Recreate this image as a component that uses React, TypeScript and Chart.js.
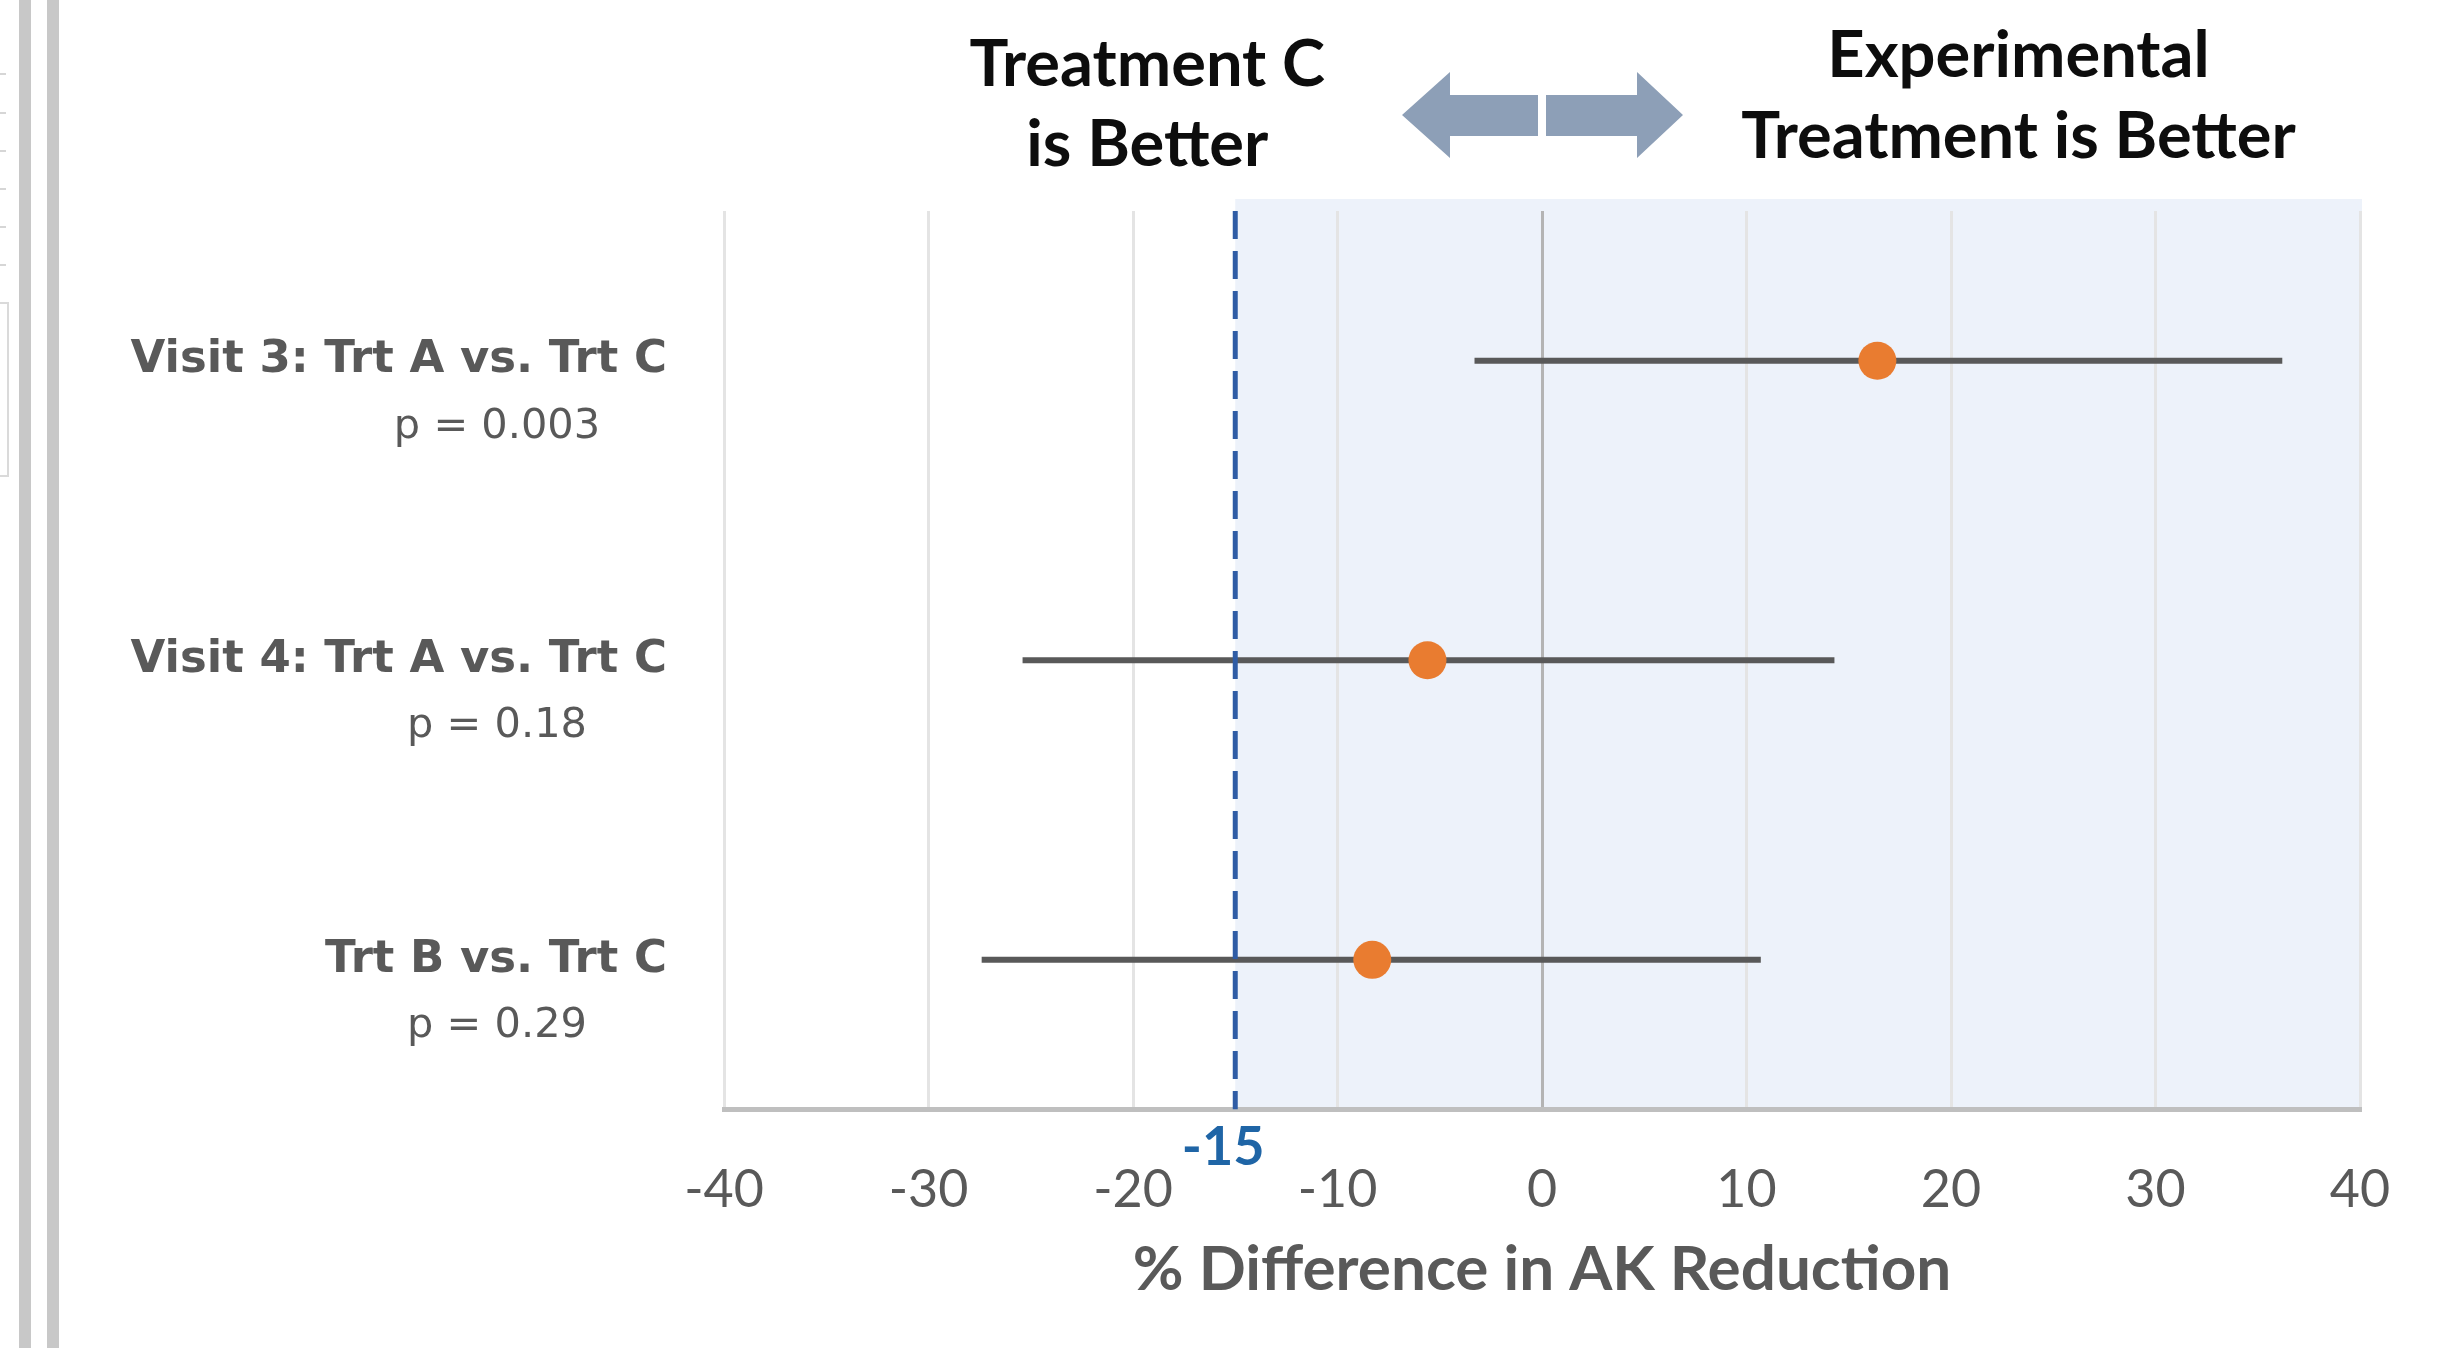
import React, { useEffect, useRef } from "react";
import { Chart, registerables } from "chart.js";

Chart.register(...registerables);

const categories = ["Visit 3: Trt A vs. Trt C", "Visit 4: Trt A vs. Trt C", "Trt B vs. Trt C"];
const pLabels = ["p = 0.003", "p = 0.18", "p = 0.29"];
const estimates = [16.4, -5.6, -8.3];
const lowerCI = [-3.3, -25.4, -27.4];
const upperCI = [36.2, 14.3, 10.7];
const marginValue = -15;
const xMin = -40;
const xMax = 40;
const xStep = 10;
const leftHeader = ["Treatment C", "is Better"];
const rightHeader = ["Experimental", "Treatment is Better"];
const axisTitle = "% Difference in AK Reduction";

const W = 2443;
const H = 1348;

const decorPlugin = {
  id: "decor",
  beforeDraw(chart: any) {
    const { ctx, chartArea, scales } = chart;
    const x = scales.x;
    ctx.save();
    ctx.fillStyle = "#ffffff";
    ctx.fillRect(0, 0, chart.width, chart.height);
    const x0 = x.getPixelForValue(marginValue);
    const x1 = x.getPixelForValue(xMax) + 2;
    ctx.fillStyle = "#EDF2FA";
    ctx.fillRect(x0, chartArea.top - 12, x1 - x0, chartArea.bottom - chartArea.top + 12);
    ctx.restore();
  },
  afterDraw(chart: any) {
    const { ctx, scales, chartArea } = chart;
    const x = scales.x;
    const y = scales.y;
    ctx.save();
    // category labels
    ctx.textBaseline = "middle";
    categories.forEach((c, i) => {
      const py = y.getPixelForValue(i + 0.5);
      ctx.fillStyle = "#595959";
      ctx.textAlign = "right";
      ctx.font = "bold 45px 'DejaVu Sans'";
      ctx.fillText(c, 667, py);
      ctx.textAlign = "center";
      ctx.font = "41.5px 'DejaVu Sans'";
      ctx.fillText(pLabels[i], 497, py + 66);
    });
    // axis title
    ctx.fillStyle = "#595959";
    ctx.font = "bold 62px Lato";
    ctx.textAlign = "center";
    ctx.fillText(axisTitle, (chartArea.left + chartArea.right) / 2, 1270);
    // margin label
    ctx.fillStyle = "#1F65A6";
    ctx.font = "bold 54px Lato";
    ctx.fillText(String(marginValue), x.getPixelForValue(marginValue) - 12, 1148);
    // headers
    ctx.fillStyle = "#0d0d0d";
    ctx.font = "bold 65px Lato";
    const lx = x.getPixelForValue(-19.3);
    ctx.fillText(leftHeader[0], lx, 65);
    ctx.fillText(leftHeader[1], lx, 145);
    const rx = x.getPixelForValue(23.3);
    ctx.fillText(rightHeader[0], rx, 56);
    ctx.fillText(rightHeader[1], rx, 137);
    // double arrow
    const cx = x.getPixelForValue(0);
    const cy = 115;
    ctx.fillStyle = "#8D9FB7";
    ctx.beginPath();
    ctx.moveTo(cx - 140, cy);
    ctx.lineTo(cx - 92, cy - 43);
    ctx.lineTo(cx - 92, cy - 20);
    ctx.lineTo(cx - 4, cy - 20);
    ctx.lineTo(cx - 4, cy + 21);
    ctx.lineTo(cx - 92, cy + 21);
    ctx.lineTo(cx - 92, cy + 43);
    ctx.closePath();
    ctx.fill();
    ctx.beginPath();
    ctx.moveTo(cx + 141, cy);
    ctx.lineTo(cx + 95, cy - 43);
    ctx.lineTo(cx + 95, cy - 20);
    ctx.lineTo(cx + 4, cy - 20);
    ctx.lineTo(cx + 4, cy + 21);
    ctx.lineTo(cx + 95, cy + 21);
    ctx.lineTo(cx + 95, cy + 43);
    ctx.closePath();
    ctx.fill();
    ctx.restore();
  },
};

export default function App() {
  const ref = useRef<HTMLCanvasElement | null>(null);
  useEffect(() => {
    if (!ref.current) return;
    const rowDatasets = categories.map((c, i) => ({
      label: c,
      data: [
        { x: lowerCI[i], y: i + 0.5 },
        { x: upperCI[i], y: i + 0.5 },
      ],
      showLine: true,
      borderColor: "#595959",
      borderWidth: 6,
      pointRadius: 0,
      order: 3,
    }));
    const chart = new Chart(ref.current, {
      type: "scatter",
      data: {
        datasets: [
          ...rowDatasets,
          {
            label: "margin",
            data: [
              { x: marginValue, y: 0 },
              { x: marginValue, y: categories.length },
            ],
            showLine: true,
            borderColor: "#2F5CA5",
            borderWidth: 5,
            borderDash: [28, 12],
            pointRadius: 0,
            order: 2,
          },
          {
            label: "estimate",
            data: estimates.map((v, i) => ({ x: v, y: i + 0.5 })),
            pointRadius: 19,
            pointBackgroundColor: "#E97C30",
            pointBorderWidth: 0,
            order: 1,
          },
        ],
      },
      options: {
        animation: false,
        responsive: false,
        devicePixelRatio: 1,
        layout: { padding: { left: 724, right: 83, top: 211, bottom: 78 } },
        plugins: { legend: { display: false }, tooltip: { enabled: false } },
        scales: {
          x: {
            type: "linear",
            min: xMin,
            max: xMax,
            ticks: {
              stepSize: xStep,
              font: { family: "Lato", size: 52 },
              color: "#595959",
              padding: 49,
            },
            grid: {
              color: (c: any) => (c.tick && c.tick.value === 0 ? "#B4B4B4" : "#E4E4E4"),
              lineWidth: 3,
              drawTicks: false,
            },
            border: { color: "#BFBFBF", width: 5 },
            title: { display: false },
          },
          y: {
            type: "linear",
            min: 0,
            max: categories.length,
            reverse: true,
            display: false,
          },
        },
      },
      plugins: [decorPlugin],
    } as any);
    return () => chart.destroy();
  }, []);
  return (
    <div style={{ position: "fixed", left: 0, top: 0, width: W, height: H, background: "#fff" }}>
      <canvas ref={ref} width={W} height={H} style={{ display: "block", position: "absolute", left: 0, top: 0 }} />
      <div style={{ position: "absolute", left: 19, top: 0, width: 12, height: H, background: "#C8C8C8" }} />
      <div style={{ position: "absolute", left: 47, top: 0, width: 12, height: H, background: "#C8C8C8" }} />
      {[73, 112, 150, 188, 226, 264].map((t) => (
        <div key={t} style={{ position: "absolute", left: 0, top: t, width: 6, height: 2, background: "#D6D6D6" }} />
      ))}
      <div style={{ position: "absolute", left: 0, top: 302, width: 7, height: 171, borderRight: "2px solid #DADADA", borderTop: "2px solid #DADADA", borderBottom: "2px solid #DADADA" }} />
    </div>
  );
}
